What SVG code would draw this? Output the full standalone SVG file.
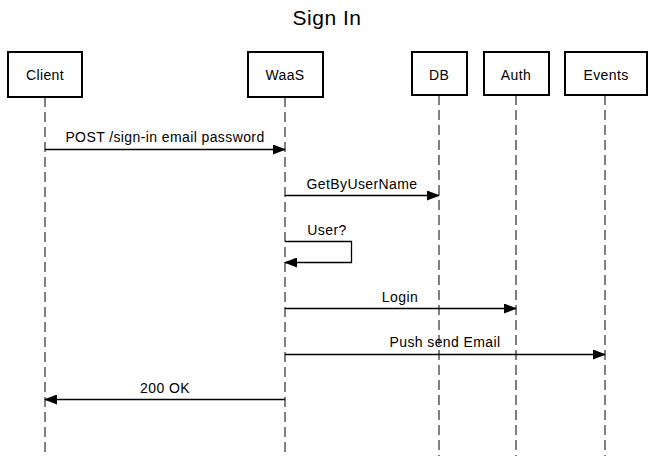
<svg xmlns="http://www.w3.org/2000/svg" width="654" height="456" viewBox="0 0 654 456">
<style>
.box{fill:#fff;stroke:#000;stroke-width:2}
.t{font-family:"Liberation Sans",Arial,sans-serif;font-size:14px;letter-spacing:0.4px;fill:#000;text-anchor:middle}
.life{stroke:#000;stroke-width:1;stroke-dasharray:10 5;fill:none}
.msg{stroke:#000;stroke-width:1.3;fill:none;marker-end:url(#ah)}
</style>
<defs>
<marker id="ah" markerWidth="13" markerHeight="10" refX="12" refY="5" orient="auto" markerUnits="userSpaceOnUse">
<path d="M0,0 L13,5 L0,10 Z" fill="#000"/>
</marker>
</defs>
<rect width="654" height="456" fill="#fff"/>
<text x="327" y="25" font-family="'Liberation Sans',Arial,sans-serif" font-size="21" letter-spacing="0.5" text-anchor="middle">Sign In</text>
<g id="lifelines">
<line class="life" x1="45" y1="97" x2="45" y2="456"/>
<line class="life" x1="285" y1="97" x2="285" y2="456"/>
<line class="life" x1="439" y1="95" x2="439" y2="456"/>
<line class="life" x1="516" y1="95" x2="516" y2="456"/>
<line class="life" x1="605" y1="95" x2="605" y2="456"/>
</g>
<g id="client"><rect class="box" x="8" y="52" width="74" height="45"/><text class="t" x="45" y="80">Client</text></g>
<g id="waas"><rect class="box" x="248" y="52" width="75" height="45"/><text class="t" x="285" y="80">WaaS</text></g>
<g id="db"><rect class="box" x="412" y="52" width="55" height="43"/><text class="t" x="439" y="80">DB</text></g>
<g id="auth"><rect class="box" x="484" y="52" width="65" height="43"/><text class="t" x="516" y="80">Auth</text></g>
<g id="events"><rect class="box" x="565" y="52" width="82" height="43"/><text class="t" x="606" y="80">Events</text></g>
<g id="connectors">
<line class="msg" x1="45" y1="149.5" x2="285" y2="149.5"/>
<text class="t" x="165" y="142">POST /sign-in email password</text>
<line class="msg" x1="285" y1="195.5" x2="439" y2="195.5"/>
<text class="t" x="362" y="189">GetByUserName</text>
<path class="msg" d="M285,241.5 H351.5 V262.5 H285"/>
<text class="t" x="327" y="235">User?</text>
<line class="msg" x1="285" y1="308.5" x2="516" y2="308.5"/>
<text class="t" x="400" y="302">Login</text>
<line class="msg" x1="285" y1="354.5" x2="605" y2="354.5"/>
<text class="t" x="445" y="347">Push send Email</text>
<line class="msg" x1="285" y1="399.5" x2="45" y2="399.5"/>
<text class="t" x="165" y="393">200 OK</text>
</g>
</svg>
